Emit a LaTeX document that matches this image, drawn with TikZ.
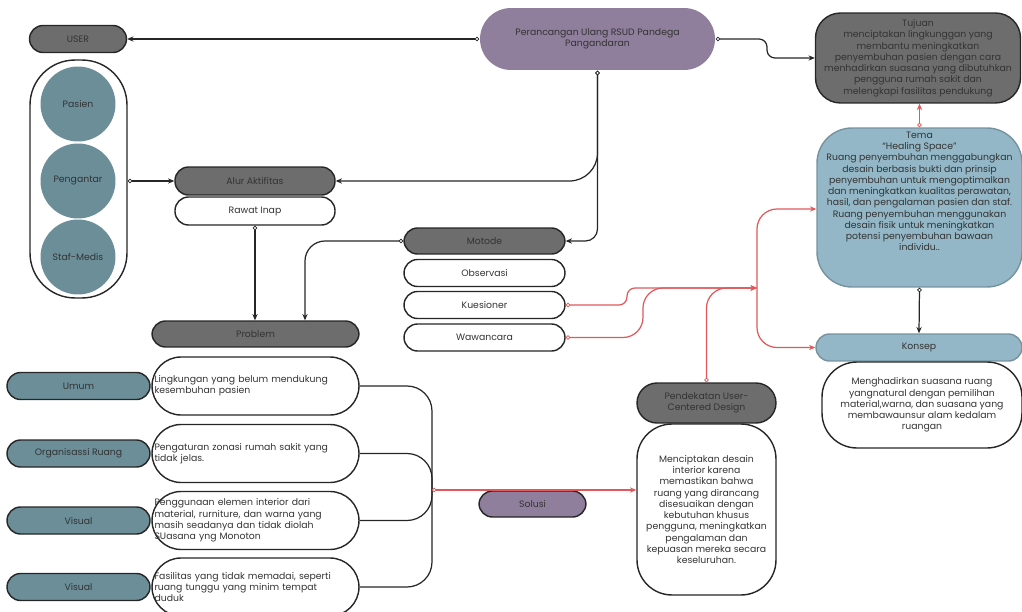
\documentclass[tikz,border=0pt]{standalone}
\usepackage{fontspec}
\setmainfont{Poppins}
\usetikzlibrary{arrows.meta, positioning}

\definecolor{dkgray}{HTML}{6D6D6D}
\definecolor{lilac}{HTML}{8F7E9C}
\definecolor{teal}{HTML}{6B8E99}
\definecolor{skyb}{HTML}{93B7C6}
\definecolor{redln}{HTML}{E0585A}
\definecolor{txtc}{HTML}{333333}

\begin{document}
\begin{tikzpicture}[x=0.02cm, y=-0.02cm,
    every node/.style={font=\fontsize{5.3}{6.4}\selectfont, text=txtc, align=center, inner sep=0pt},
    pill/.style={draw=black!85, line width=0.8pt, minimum width=#1, rounded corners=0.27cm, minimum height=0.54cm},
    gbox/.style={pill=#1, fill=dkgray},
    wbox/.style={pill=#1, fill=white},
    tbox/.style={pill=#1, fill=teal},
    pbox/.style={pill=#1, fill=lilac},
    dot/.style={circle, fill=teal, minimum size=1.5cm},
    blk/.style={draw=black!85, line width=0.7pt},
    redc/.style={draw=redln, line width=0.7pt},
    con/.style={{Circle[open, fill=white, length=2.6pt, width=2.6pt, line width=0.45pt]}-{Stealth[length=3.6pt, width=3pt]}},
    tip/.style={-{Stealth[length=3.6pt, width=3pt]}}]
  \useasboundingbox (0,0) rectangle (1022,612);

  % users
  \node[gbox=1.94cm] (user) at (78,39) {USER};
  \node[wbox=1.94cm, minimum height=4.76cm, rounded corners=0.9cm] (usergrp) at (78.5,179) {};
  \node[dot] (pasien) at (78,104) {Pasien};
  \node[dot] (pengantar) at (78,181) {Pengantar};
  \node[dot] (staf) at (78,257) {Staf-Medis};

  % main / tujuan / tema / konsep
  \node[pbox=4.7cm, minimum height=1.24cm, rounded corners=0.62cm, draw=none] (main) at (597.5,39)
    {Perancangan Ulang RSUD Pandega\\Pangandaran};
  \node[gbox=4.1cm, minimum height=1.8cm, rounded corners=0.5cm] (tujuan) at (918,58)
    {Tujuan\\menciptakan lingkunggan yang\\membantu meningkatkan\\penyembuhan pasien dengan cara\\menhadirkan suasana yang dibutuhkan\\pengguna rumah sakit  dan\\melengkapi fasilitas pendukung};
  \node[pill=4.1cm, fill=skyb, draw=skyb!80!black, minimum height=3.18cm, rounded corners=0.7cm] (tema) at (919.5,207.5)
    {Tema\\``Healing Space''\\Ruang penyembuhan menggabungkan\\desain berbasis bukti dan prinsip\\penyembuhan untuk mengoptimalkan\\dan meningkatkan kualitas perawatan,\\hasil, dan pengalaman pasien dan staf.\\Ruang penyembuhan menggunakan\\desain fisik untuk meningkatkan\\potensi penyembuhan bawaan\\individu..\\[0.42cm]\mbox{}};
  \node[pill=4.12cm, fill=skyb, draw=skyb!80!black] (konsep) at (919,347.5) {Konsep};
  \node[wbox=4.0cm, minimum height=1.72cm, rounded corners=0.7cm] (konseptxt) at (922,405)
    {Menghadirkan suasana ruang\\yangnatural dengan pemilihan\\material,warna, dan suasana yang\\membawaunsur alam kedalam\\ruangan};

  % alur aktifitas / motode
  \node[gbox=3.2cm, minimum height=0.56cm] (alur) at (255,181) {Alur Aktifitas};
  \node[wbox=3.2cm, minimum height=0.56cm] (rawat) at (255,211) {Rawat Inap};
  \node[gbox=3.22cm, minimum height=0.52cm] (motode) at (484.5,241) {Motode};
  \node[wbox=3.22cm] (observasi) at (484.5,273) {Observasi};
  \node[wbox=3.22cm] (kuesioner) at (484.5,305) {Kuesioner};
  \node[wbox=3.22cm] (wawancara) at (484.5,337.5) {Wawancara};

  % problem
  \node[gbox=4.14cm, minimum height=0.52cm] (problem) at (255.5,334) {Problem};
  \foreach \i/\y/\lbl/\txt in {
      1/386/Umum/{Lingkungan yang belum mendukung\\kesembuhan pasien},
      2/453.5/Organisassi Ruang/{Pengaturan zonasi rumah sakit yang\\tidak jelas.},
      3/520.5/Visual/{Penggunaan elemen interior dari\\material, rurniture, dan warna yang\\masih seadanya dan tidak diolah\\SUasana yng Monoton},
      4/587/Visual/{Fasilitas yang tidak memadai, seperti\\ruang tunggu yang minim tempat\\duduk}} {
    \node[tbox=2.86cm] (lbl\i) at (78.5,\y) {\lbl};
    \node[wbox=4.14cm, minimum height=1.16cm, rounded corners=0.58cm, align=left,
          text width=4.04cm, inner xsep=0.05cm] (prob\i) at (255.5,\y) {\txt};
  }

  % solusi / pendekatan
  \node[pbox=2.14cm, minimum height=0.52cm] (solusi) at (532.5,504) {Solusi};
  \node[gbox=2.78cm, minimum height=0.8cm, rounded corners=0.4cm] (pendekatan) at (706.5,403)
    {Pendekatan User-\\Centered Design};
  \node[wbox=2.78cm, minimum height=3.42cm, rounded corners=0.7cm] (pendtxt) at (706.5,509.5)
    {Menciptakan desain\\interior karena\\memastikan bahwa\\ruang yang dirancang\\disesuaikan dengan\\kebutuhan khusus\\pengguna, meningkatkan\\pengalaman dan\\kepuasan mereka secara\\keseluruhan.};

  \coordinate (jn) at (432,490);
  \coordinate (hub) at (757,288);

  % black connectors
  \draw[blk, con] (main.west) -- (user.east);
  \draw[blk, con, rounded corners=0.16cm] (main.east) -- (767,39) |- (tujuan.west);
  \draw[blk, con, rounded corners=0.56cm] (main.south) |- (alur.east);
  \draw[blk, con, rounded corners=0.24cm] (main.south) |- (motode.east);
  \draw[blk, con] (usergrp.east |- alur.west) -- (alur.west);
  \draw[blk, con] (rawat.south) -- (rawat.south |- problem.north);
  \draw[blk, con, rounded corners=0.4cm] (motode.west) -| (305,0 |- problem.north);
  \draw[blk, con] (tema.south) -- (konsep.north);
  \foreach \i in {1,...,4}
    \draw[blk, rounded corners=0.5cm] (prob\i.east) -| (jn);

  % red connectors
  \draw[redc, con] (jn) -- (jn -| pendtxt.west);
  \draw[redc, con, rounded corners=0.16cm] (kuesioner.east) -- (627,305) |- (hub);
  \draw[redc, con, rounded corners=0.4cm] (wawancara.east) -- (643,337.5) |- (hub);
  \draw[redc, con, rounded corners=0.4cm] (pendekatan.north) |- (hub);
  \draw[redc, tip, rounded corners=0.4cm] (hub) |- (0,209 -| tema.west);
  \draw[redc, tip, rounded corners=0.4cm] (hub) |- (konsep.west);
  \draw[redc, con] (tema.north) -- (tema.north |- tujuan.south);
\end{tikzpicture}
\end{document}
